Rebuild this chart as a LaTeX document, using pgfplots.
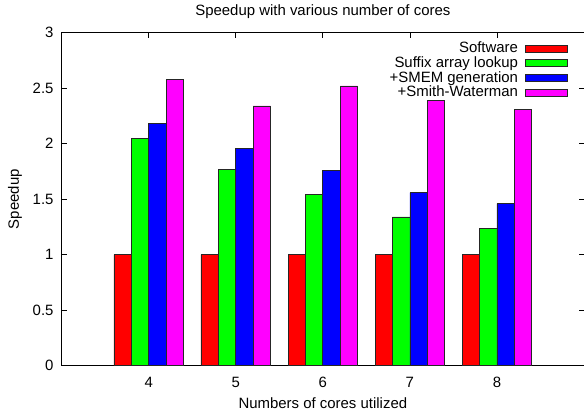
\documentclass[border=0pt]{standalone}
\usepackage{pgfplots}
\pgfplotsset{compat=1.18}
\usepackage{fontspec}
\setmainfont{Liberation Sans}
\definecolor{gred}{RGB}{255,0,0}
\definecolor{ggreen}{RGB}{0,255,0}
\definecolor{gblue}{RGB}{0,0,255}
\definecolor{gmag}{RGB}{255,0,255}
\pgfplotsset{
  lg/.style={legend image code/.code={\draw[##1,line width=0.8bp] (0bp,-3.5bp) rectangle (42bp,3.5bp);}},
  gbar/.style={ybar, bar width=0.2, draw=black!85, line width=0.8bp},
}
\begin{document}
\fontsize{15}{18}\selectfont
\begin{tikzpicture}
\begin{axis}[
  name=ax,
  scale only axis, width=522.3bp, height=333bp,
  xmin=-1, xmax=5, ymin=0, ymax=3,
  xtick={0,1,2,3,4}, xticklabels={4,5,6,7,8},
  ytick={0,0.5,1,1.5,2,2.5,3},
  yticklabels={0,0.5,1,1.5,2,2.5,3},
  /pgf/number format/assume math mode=true,
  tick align=inside, major tick length=5bp,
  tick style={black, line width=0.8bp},
  axis line style={line width=1bp},
  title={Speedup with various number of cores},
  title style={at={(axis description cs:0.5,1.0441)}, anchor=center},
  xlabel={Numbers of cores utilized},
  xlabel style={at={(axis description cs:0.5,-0.112)}, anchor=center},
  ylabel={Speedup},
  ylabel style={at={(axis description cs:-0.0894,0.5)}, anchor=center},
  xticklabel style={anchor=center, yshift=-16.5bp},
  yticklabel style={anchor=east, xshift=-3bp},
  legend plot pos=right,
  legend cell align=right,
  legend style={draw=none, fill=none, at={(1,1)}, anchor=north east, xshift=-16bp, yshift=-7bp, row sep=-2.3bp, column sep=5bp, inner sep=0pt},
]
\addplot[gbar, fill=gred, bar shift=-0.3, lg] coordinates {(0,1) (1,1) (2,1) (3,1) (4,1)};
\addlegendentry{Software}
\addplot[gbar, fill=ggreen, bar shift=-0.1, lg] coordinates {(0,2.05) (1,1.77) (2,1.54) (3,1.34) (4,1.24)};
\addlegendentry{Suffix array lookup}
\addplot[gbar, fill=gblue, bar shift=0.1, lg] coordinates {(0,2.18) (1,1.96) (2,1.76) (3,1.56) (4,1.46)};
\addlegendentry{+SMEM generation}
\addplot[gbar, fill=gmag, bar shift=0.3, lg] coordinates {(0,2.58) (1,2.34) (2,2.52) (3,2.39) (4,2.31)};
\addlegendentry{+Smith-Waterman}
\end{axis}
\pgfresetboundingbox
\path ([xshift=-61.7bp,yshift=-50.3bp]ax.south west) rectangle ([yshift=32.7bp]ax.north east);
\end{tikzpicture}
\end{document}
